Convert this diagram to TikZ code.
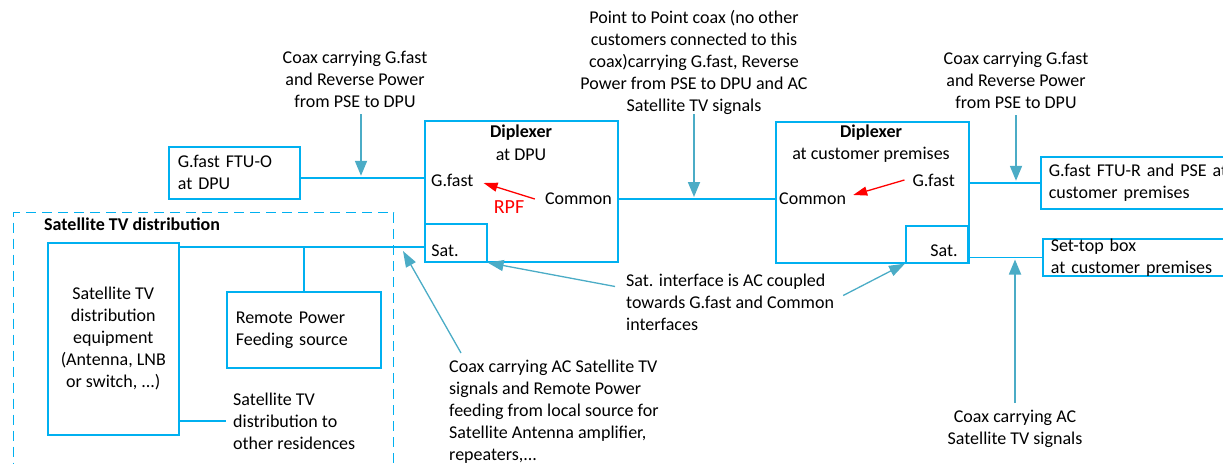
\documentclass[tikz,border=0pt]{standalone}
\usepackage{fontspec}
\setmainfont{Carlito}
\usetikzlibrary{arrows.meta,positioning}
\definecolor{wireblue}{RGB}{0,176,240}
\definecolor{callblue}{RGB}{75,172,198}
\tikzset{
  txt/.style={font=\fontsize{18}{22}\selectfont, inner sep=0pt},
  box/.style={draw=wireblue, line width=1.6pt, inner sep=0pt, anchor=north west},
  wire/.style={draw=wireblue, line width=1.4pt},
  feed/.style={draw=callblue, line width=1.8pt, shorten >=2pt, -{Triangle[length=15pt,width=12pt]}},
  hint/.style={draw=callblue, line width=1.3pt, -{Triangle[length=16pt,width=11pt]}},
  rpfarrow/.style={draw=red, line width=1.3pt, -{Triangle[length=14pt,width=9pt]}},
}
\begin{document}
\begin{tikzpicture}[x=1pt,y=-1pt]
\useasboundingbox (0,0) rectangle (1223,463);
\clip (0,0) rectangle (1223,463);

\node[box, txt, inner xsep=9pt, text width=113pt, minimum height=52pt, align=left] (ftuo) at (168,146) {G.fast FTU-O\\at DPU};

\node[box, minimum width=193pt, minimum height=141pt] (dpu) at (424,120) {};
\node[box, minimum width=62pt, minimum height=38pt] (dpusat) at (424,223) {};
\node[txt] (dpusatlbl) at (445,251) {Sat.};
\node[txt] (dpuname) at (521,133) {\bfseries Diplexer};
\node[txt] (dpuloc) at (521,155) {at DPU};
\node[txt, anchor=west] (dpugf) at (431,180) {G.fast};
\node[txt, anchor=east] (dpucom) at (612,199) {Common};
\node[txt, text=red, font=\fontsize{20}{24}\selectfont] (rpf) at (509,207) {RPF};
\draw[rpfarrow] ([xshift=-10pt]dpucom.west) -- ([xshift=10pt,yshift=-3pt]dpugf.east);

\node[box, minimum width=193pt, minimum height=141pt] (cust) at (775,121) {};
\node[box, minimum width=62pt, minimum height=37pt] (custsat) at (905,225) {};
\node[txt] (custsatlbl) at (944,251) {Sat.};
\node[txt] (custname) at (871,133) {\bfseries Diplexer};
\node[txt] (custloc) at (871,155) {at customer premises};
\node[txt, anchor=east] (custgf) at (955,180) {G.fast};
\node[txt, anchor=west] (custcom) at (779,199) {Common};
\draw[rpfarrow] ([xshift=-8pt]custgf.west) -- ([xshift=7pt,yshift=4pt]custcom.east);

\node[box, txt, inner xsep=8pt, text width=200pt, minimum height=52pt, align=left] (ftur) at (1040,156) {G.fast FTU-R and PSE at\\customer premises};
\node[box, txt, inner xsep=8pt, text width=200pt, minimum height=37pt, align=left] (stb) at (1042,238) {Set-top box\\at customer premises};

\coordinate (ftuoout) at ([yshift=-5pt]ftuo.east);
\draw[wire] (ftuoout) -- (ftuoout -| dpu.west);
\draw[wire] (dpu.east |- dpucom) -- (cust.west |- dpucom);
\draw[wire] (cust.east |- ftur.west) -- (ftur.west);
\draw[wire] (custsat.east |- stb.west) -- (stb.west);

\node[txt, align=center] (feedleft) at (355,79) {Coax carrying G.fast\\and Reverse Power\\from PSE to DPU};
\draw[feed] ([xshift=6pt,yshift=-7pt]feedleft.south) -- ([xshift=6pt]feedleft.south |- ftuoout);
\node[txt, align=center] (p2p) at (694,62) {Point to Point coax (no other\\customers connected to this\\coax)carrying G.fast, Reverse\\Power from PSE to DPU and AC\\Satellite TV signals};
\draw[feed] (p2p.south) -- (p2p.south |- dpucom);
\node[txt, align=center] (feedright) at (1016,80) {Coax carrying G.fast\\and Reverse Power\\from PSE to DPU};
\draw[feed] ([yshift=-7pt]feedright.south) -- (feedright.south |- ftur.west);
\node[txt, align=center] (satfeed) at (1015,429) {Coax carrying AC\\Satellite TV signals};
\draw[feed] ([yshift=7pt]satfeed.north) -- (satfeed.north |- stb.west);

\node[txt, anchor=west, align=left] (satnote) at (626,302) {Sat. interface is AC coupled\\towards G.fast and Common\\interfaces};
\draw[hint] ([xshift=-11pt,yshift=-13pt]satnote.north west) -- (dpusat.south east);
\draw[hint] ([xshift=9pt,yshift=-22pt]satnote.north east) -- (custsat.south west);

\node[box, dash pattern=on 10pt off 6pt, line width=1.4pt, minimum width=380pt, minimum height=270pt] (satdist) at (13,212) {};
\node[txt, anchor=west] (satdisttitle) at (44,224) {\bfseries Satellite TV distribution};
\node[box, txt, minimum width=131pt, minimum height=192pt, align=center] (equip) at (47,242) {Satellite TV\\distribution\\equipment\\(Antenna, LNB\\or switch, ...)};
\node[box, txt, inner xsep=9pt, text width=136pt, minimum height=76pt, align=left] (rpower) at (226,291) {Remote Power\\Feeding source};
\coordinate (equiptap) at ([yshift=-5pt]equip.north east);
\draw[wire] (equiptap) -- (equiptap -| dpusat.west);
\draw[wire] (rpower.north) -- (rpower.north |- equiptap);
\node[txt, anchor=west, align=left, inner xsep=7pt] (others) at (226,421) {Satellite TV\\distribution to\\other residences};
\draw[wire] (equip.east |- others) -- (others.west);

\node[txt, anchor=north west, align=left] (coaxac) at (449,360) {Coax carrying AC Satellite TV\\signals and Remote Power\\feeding from local source for\\Satellite Antenna amplifier,\\repeaters,...};
\coordinate (sattap) at ([xshift=-21pt,yshift=-4pt]equiptap -| dpusat.west);
\draw[hint] ([xshift=12pt,yshift=7pt]coaxac.north west) -- (sattap);
\end{tikzpicture}
\end{document}
